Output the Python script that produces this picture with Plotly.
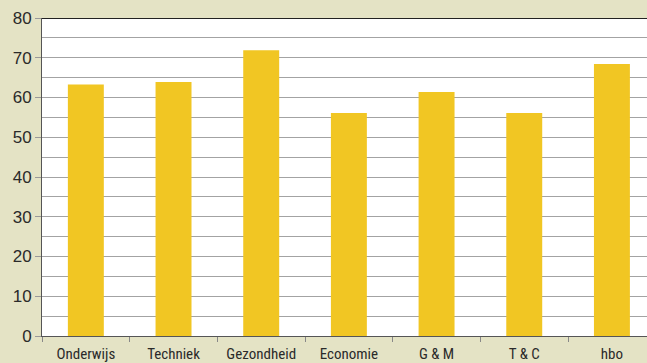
import plotly.graph_objects as go

categories = ["Onderwijs", "Techniek", "Gezondheid", "Economie", "G & M", "T & C", "hbo"]
values = [63.3, 63.9, 71.9, 56.1, 61.4, 56.1, 68.4]
y_tick_vals = [0, 10, 20, 30, 40, 50, 60, 70, 80]

BG = "#e4e3c5"
BAR = "#f1c623"
FONT = "Liberation Sans Narrow, Arial Narrow, Roboto Condensed, Liberation Sans, sans-serif"

fig = go.Figure(go.Bar(x=categories, y=values, marker=dict(color=BAR, line=dict(width=0)), width=0.41))

fig.update_layout(
    width=647, height=363,
    margin=dict(l=42, r=0, t=18, b=27, autoexpand=False),
    paper_bgcolor=BG, plot_bgcolor="white",
    showlegend=False,
    font=dict(family=FONT, color="#2a2a2a"),
    bargap=0.59,
)
fig.update_xaxes(
    type="category", range=[-0.5, 6.4], automargin=False,
    showline=True, linecolor="#555555", linewidth=1,
    ticks="outside", tickson="boundaries", ticklen=5, tickcolor="#888888",
    tickfont=dict(size=15, family=FONT, color="#2a2a2a"),
    ticklabelstandoff=4,
    showgrid=False,
)
fig.update_yaxes(
    range=[0, 80], tickvals=y_tick_vals, automargin=False,
    showline=True, linecolor="#555555", linewidth=1,
    ticks="outside", ticklen=6, tickcolor="#999999",
    tickfont=dict(size=17, family="Liberation Sans, Arial, sans-serif", color="#2a2a2a"),
    showgrid=True, gridcolor="#a3a3a3", gridwidth=1,
    minor=dict(dtick=5, showgrid=True, gridcolor="#a3a3a3", gridwidth=1, ticks=""),
    zeroline=False,
)
fig.add_shape(type="line", xref="paper", yref="y", x0=0, x1=1, y0=80, y1=80,
              line=dict(color="#222222", width=2))

fig.write_html(
    "out.html",
    config={"displayModeBar": False},
    post_script="document.body.style.margin='0';document.body.style.padding='0';"
                "document.body.style.overflow='hidden';document.body.style.background='#e4e3c5';",
)
